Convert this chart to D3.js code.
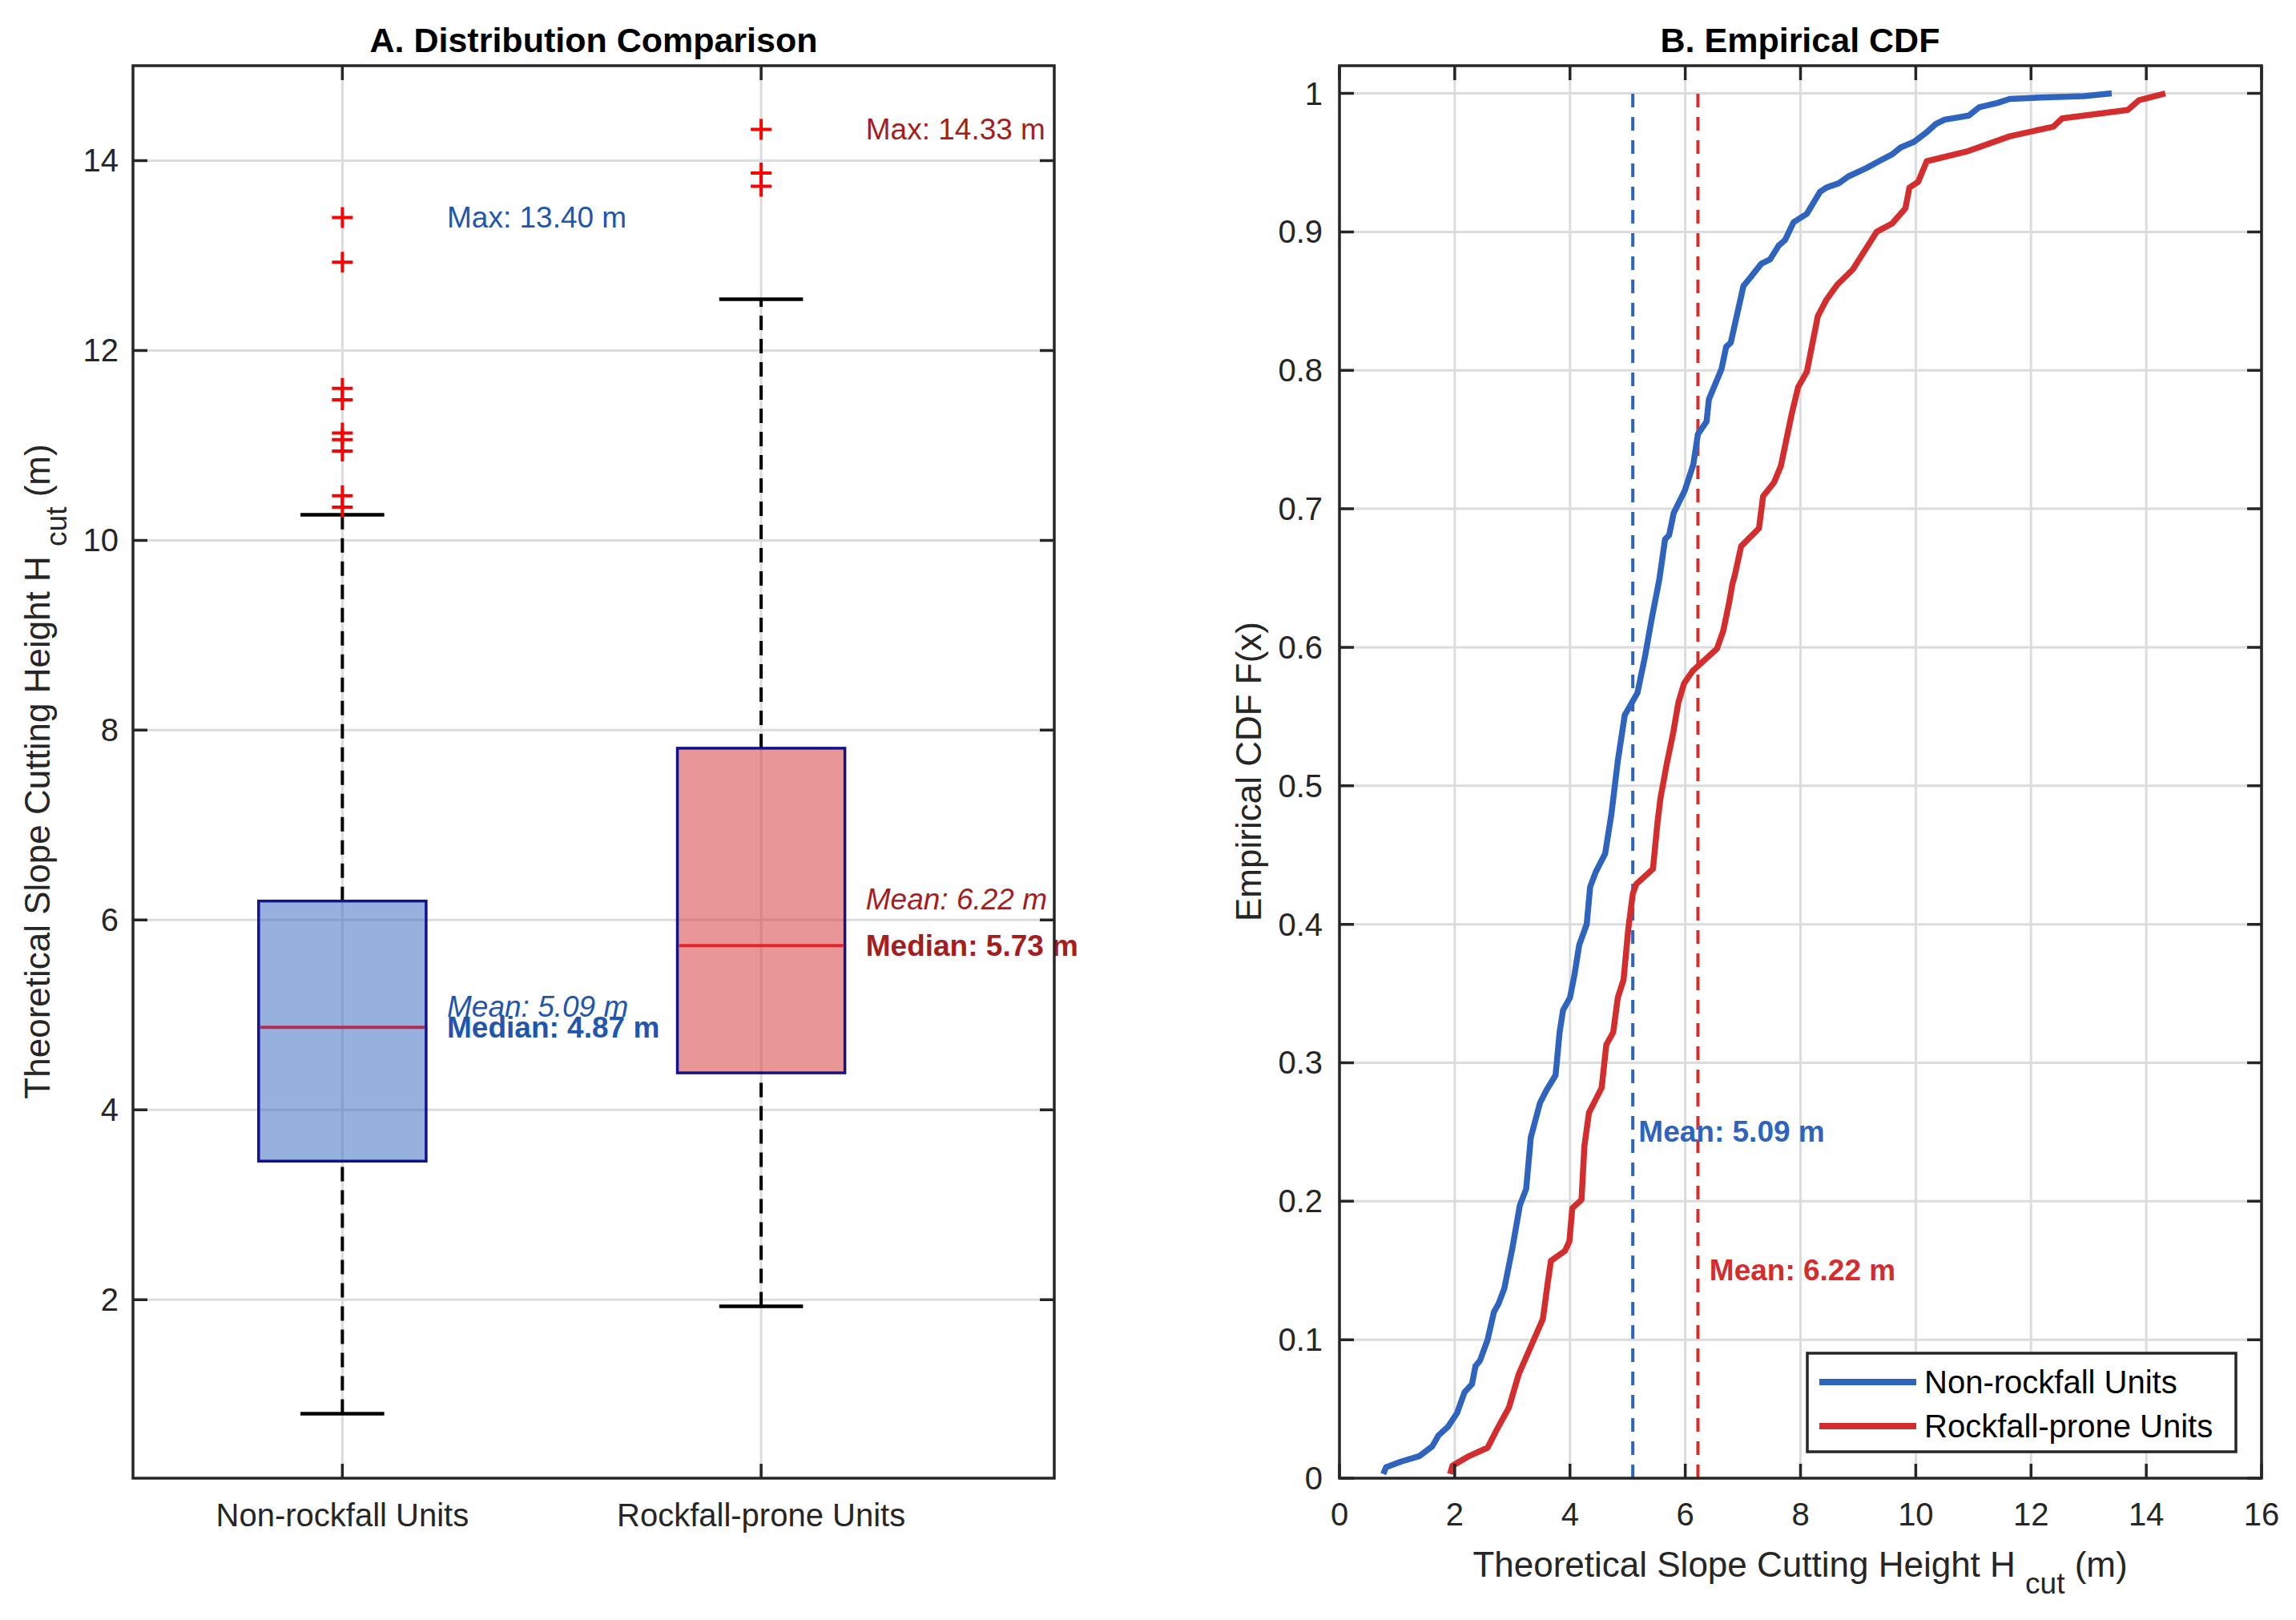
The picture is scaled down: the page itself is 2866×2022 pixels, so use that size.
<!DOCTYPE html>
<html>
<head>
<meta charset="utf-8">
<script src="https://cdn.jsdelivr.net/npm/d3@7"></script>
<style>
  body { margin: 0; background: #fff; }
  text { font-family: "Liberation Sans", Arial, sans-serif; white-space: pre; }
</style>
</head>
<body>
<div id="chart"></div>
<script>
const CBLUE = '#2F64BE'
const CRED = '#D42D2D'
const CBLUE_TXT = '#2156AE'
const CRED_TXT = '#A51D1D'
const CBOXEDGE = '#12128A'
const CGRID = '#DCDCDC'
const CAXIS = '#262626'

// box plot stats (m)
const categories = ["Non-rockfall Units", "Rockfall-prone Units"]
const whiskerLow = [0.80, 1.93]
const boxQ1 = [3.46, 4.39]
const boxMedian = [4.87, 5.73]
const boxQ3 = [6.20, 7.81]
const whiskerHigh = [10.27, 12.54]
const boxMean = [5.09, 6.22]
const dataMax = [13.40, 14.33]
const outliersNon = [13.40, 12.93, 11.60, 11.48, 11.13, 11.06, 10.94, 10.47, 10.35]
const outliersRock = [14.33, 13.87, 13.73]

// empirical CDF
const cdfNonX = [0.76, 0.81, 1.07, 1.39, 1.61, 1.72, 1.88, 2.04, 2.17, 2.30, 2.36, 2.44, 2.57, 2.68, 2.76, 2.86,
    3.00, 3.13, 3.24, 3.32, 3.48, 3.59, 3.75, 3.82, 3.88, 4.00, 4.08, 4.16, 4.29, 4.35, 4.45, 4.61, 4.72, 4.83,
    4.95, 5.17, 5.30, 5.42, 5.55, 5.65, 5.72, 5.80, 5.99, 6.14, 6.22, 6.37, 6.41, 6.63, 6.71, 6.79, 7.01, 7.13,
    7.32, 7.47, 7.62, 7.73, 7.88, 8.11, 8.34, 8.45, 8.66, 8.83, 9.14, 9.36, 9.59, 9.74, 9.97, 10.19, 10.35, 10.50,
    10.92, 11.10, 11.41, 11.63, 12.16, 12.92, 13.40]
const cdfNonF = [0.003, 0.008, 0.012, 0.016, 0.023, 0.031, 0.037, 0.047, 0.062, 0.068, 0.081, 0.085, 0.100, 0.120, 0.126, 0.137,
    0.166, 0.197, 0.209, 0.246, 0.271, 0.280, 0.291, 0.322, 0.338, 0.347, 0.364, 0.385, 0.400, 0.427, 0.438, 0.451, 0.480, 0.518,
    0.551, 0.567, 0.593, 0.621, 0.649, 0.678, 0.681, 0.697, 0.713, 0.732, 0.754, 0.763, 0.779, 0.801, 0.817, 0.820, 0.861, 0.867,
    0.877, 0.880, 0.890, 0.894, 0.907, 0.913, 0.929, 0.932, 0.935, 0.940, 0.946, 0.951, 0.956, 0.961, 0.965, 0.972, 0.978, 0.981,
    0.984, 0.990, 0.993, 0.996, 0.997, 0.998, 1.000]
const cdfRockX = [1.92, 1.96, 2.25, 2.57, 2.73, 2.94, 3.11, 3.32, 3.53, 3.61, 3.67, 3.91, 3.99, 4.04, 4.20, 4.25, 4.33,
    4.55, 4.63, 4.75, 4.83, 4.93, 5.01, 5.09, 5.15, 5.44, 5.52, 5.57, 5.68, 5.79, 5.88, 5.98, 6.13, 6.55, 6.66, 6.76,
    6.82, 6.86, 6.97, 7.28, 7.35, 7.54, 7.66, 7.85, 7.96, 8.11, 8.30, 8.45, 8.64, 8.91, 9.32, 9.59, 9.82, 9.89, 10.04,
    10.19, 10.88, 11.63, 12.39, 12.54, 13.68, 13.87, 14.33]
const cdfRockF = [0.003, 0.009, 0.016, 0.022, 0.035, 0.051, 0.075, 0.095, 0.115, 0.140, 0.157, 0.164, 0.171, 0.195, 0.201, 0.240, 0.264,
    0.282, 0.313, 0.322, 0.347, 0.360, 0.396, 0.422, 0.429, 0.440, 0.474, 0.491, 0.516, 0.538, 0.560, 0.574, 0.583, 0.599, 0.612, 0.632,
    0.646, 0.652, 0.673, 0.686, 0.709, 0.719, 0.731, 0.769, 0.788, 0.799, 0.839, 0.851, 0.862, 0.873, 0.900, 0.906, 0.917, 0.932, 0.936,
    0.951, 0.958, 0.969, 0.976, 0.982, 0.988, 0.995, 1.000]

const yTicksA = [2, 4, 6, 8, 10, 12, 14]
const xTicksB = [0, 2, 4, 6, 8, 10, 12, 14, 16]
const yTicksB = [0, 0.1, 0.2, 0.3, 0.4, 0.5, 0.6, 0.7, 0.8, 0.9, 1]

const width = 2866
const height = 2022
const tickLen = 18

const svg = d3.select("#chart")
    .append("svg")
    .attr("width", width)
    .attr("height", height)
    .attr("viewBox", [0, 0, width, height])

svg.append("rect").attr("width", width).attr("height", height).attr("fill", "#fff")

// axis label with subscript "cut"
function hcutLabel(g) {
    g.append("tspan").text("Theoretical Slope Cutting Height H ")
    g.append("tspan").attr("dy", 21).attr("font-size", 37).text("cut")
    g.append("tspan").attr("dy", -21).text(" (m)")
}

function frame(g, x0, x1, y0, y1) {
    g.append("rect")
        .attr("x", x0).attr("y", y0)
        .attr("width", x1 - x0).attr("height", y1 - y0)
        .attr("fill", "none")
        .attr("stroke", CAXIS)
        .attr("stroke-width", 3.5)
}

// ---------------- panel A: box plot ----------------
const xA = d3.scaleLinear().domain([0.5, 2.7]).range([166, 1316])
const yA = d3.scaleLinear().domain([0.12, 15]).range([1845, 82])
const gA = svg.append("g")
const boxW = 0.4
const capW = 0.2

// grid
gA.append("g").selectAll("line").data(yTicksA).join("line")
    .attr("x1", xA(0.5)).attr("x2", xA(2.7))
    .attr("y1", d => yA(d)).attr("y2", d => yA(d))
    .attr("stroke", CGRID).attr("stroke-width", 3)
gA.append("g").selectAll("line").data([1, 2]).join("line")
    .attr("x1", d => xA(d)).attr("x2", d => xA(d))
    .attr("y1", yA(0.12)).attr("y2", yA(15))
    .attr("stroke", CGRID).attr("stroke-width", 3)

const boxes = categories.map((c, i) => ({
    pos: i + 1, lo: whiskerLow[i], q1: boxQ1[i], med: boxMedian[i], q3: boxQ3[i],
    hi: whiskerHigh[i], mean: boxMean[i], max: dataMax[i]
}))
const boxFill = [CBLUE, CRED]
const medColor = ['#B3304F', '#E8242A']
const txtColor = [CBLUE_TXT, CRED_TXT]

// whiskers
gA.append("g").selectAll("line").data(boxes.flatMap(b => [[b.pos, b.q3, b.hi], [b.pos, b.lo, b.q1]])).join("line")
    .attr("x1", d => xA(d[0])).attr("x2", d => xA(d[0]))
    .attr("y1", d => yA(d[1])).attr("y2", d => yA(d[2]))
    .attr("stroke", "#000").attr("stroke-width", 4)
    .attr("stroke-dasharray", "18,11")
gA.append("g").selectAll("line").data(boxes.flatMap(b => [[b.pos, b.hi], [b.pos, b.lo]])).join("line")
    .attr("x1", d => xA(d[0] - capW / 2)).attr("x2", d => xA(d[0] + capW / 2))
    .attr("y1", d => yA(d[1])).attr("y2", d => yA(d[1]))
    .attr("stroke", "#000").attr("stroke-width", 4.5)

// boxes
gA.append("g").selectAll("rect").data(boxes).join("rect")
    .attr("x", d => xA(d.pos - boxW / 2))
    .attr("width", d => xA(d.pos + boxW / 2) - xA(d.pos - boxW / 2))
    .attr("y", d => yA(d.q3))
    .attr("height", d => yA(d.q1) - yA(d.q3))
    .attr("fill", (d, i) => boxFill[i])
    .attr("fill-opacity", 0.5)
    .attr("stroke", CBOXEDGE)
    .attr("stroke-width", 3.5)
gA.append("g").selectAll("line").data(boxes).join("line")
    .attr("x1", d => xA(d.pos - boxW / 2) + 2).attr("x2", d => xA(d.pos + boxW / 2) - 2)
    .attr("y1", d => yA(d.med)).attr("y2", d => yA(d.med))
    .attr("stroke", (d, i) => medColor[i]).attr("stroke-width", 4)

// outliers
const outliers = outliersNon.map(v => [1, v]).concat(outliersRock.map(v => [2, v]))
gA.append("g").selectAll("path").data(outliers).join("path")
    .attr("d", d => {
        const cx = xA(d[0]), cy = yA(d[1]), s = 13
        return `M${cx - s},${cy}H${cx + s}M${cx},${cy - s}V${cy + s}`
    })
    .attr("stroke", "#FF0000").attr("stroke-width", 4).attr("fill", "none")

// annotations
const annA = gA.append("g").attr("font-size", 37)
boxes.forEach((b, i) => {
    const tx = xA(b.pos + 0.25)
    annA.append("text").attr("x", tx).attr("y", yA(b.max)).attr("dominant-baseline", "central")
        .attr("fill", txtColor[i]).text(`Max: ${b.max.toFixed(2)} m`)
    annA.append("text").attr("x", tx).attr("y", yA(b.mean)).attr("dominant-baseline", "central")
        .attr("fill", txtColor[i]).attr("font-style", "italic").text(`Mean: ${b.mean.toFixed(2)} m`)
    annA.append("text").attr("x", tx).attr("y", yA(b.med)).attr("dominant-baseline", "central")
        .attr("fill", txtColor[i]).attr("font-weight", "bold").text(`Median: ${b.med.toFixed(2)} m`)
})

frame(gA, 166, 1316, 82, 1845)

// ticks A
gA.append("g").selectAll("path").data(yTicksA).join("path")
    .attr("d", d => `M166,${yA(d)}h${tickLen}M1316,${yA(d)}h${-tickLen}`)
    .attr("stroke", CAXIS).attr("stroke-width", 3.5)
gA.append("g").selectAll("path").data([1, 2]).join("path")
    .attr("d", d => `M${xA(d)},1845v${-tickLen}M${xA(d)},82v${tickLen}`)
    .attr("stroke", CAXIS).attr("stroke-width", 3.5)
gA.append("g").attr("font-size", 40).attr("fill", CAXIS)
    .selectAll("text").data(yTicksA).join("text")
    .attr("x", 148).attr("y", d => yA(d)).attr("text-anchor", "end").attr("dominant-baseline", "central")
    .text(d => d)
gA.append("g").attr("font-size", 40).attr("fill", CAXIS)
    .selectAll("text").data(categories).join("text")
    .attr("x", (d, i) => xA(i + 1)).attr("y", 1905).attr("text-anchor", "middle")
    .text(d => d)

gA.append("text").attr("x", 741).attr("y", 65).attr("text-anchor", "middle")
    .attr("font-size", 43).attr("font-weight", "bold").attr("fill", "#000")
    .text("A. Distribution Comparison")
gA.append("text").attr("transform", "translate(62,963) rotate(-90)")
    .attr("text-anchor", "middle").attr("font-size", 44).attr("fill", CAXIS)
    .call(hcutLabel)

// ---------------- panel B: empirical CDF ----------------
const xB = d3.scaleLinear().domain([0, 16]).range([1672, 2823])
const yB = d3.scaleLinear().domain([0, 1.02]).range([1845, 82])
const gB = svg.append("g")

gB.append("g").selectAll("line").data(yTicksB).join("line")
    .attr("x1", xB(0)).attr("x2", xB(16))
    .attr("y1", d => yB(d)).attr("y2", d => yB(d))
    .attr("stroke", CGRID).attr("stroke-width", 3)
gB.append("g").selectAll("line").data(xTicksB).join("line")
    .attr("x1", d => xB(d)).attr("x2", d => xB(d))
    .attr("y1", yB(0)).attr("y2", yB(1.02))
    .attr("stroke", CGRID).attr("stroke-width", 3)

const line = d3.line().x(d => xB(d[0])).y(d => yB(d[1]))
const series = [
    { name: categories[0], color: CBLUE, pts: d3.zip(cdfNonX, cdfNonF), mean: boxMean[0], lx: 0.1, ly: 0.25 },
    { name: categories[1], color: CRED, pts: d3.zip(cdfRockX, cdfRockF), mean: boxMean[1], lx: 0.2, ly: 0.15 }
]

gB.append("g").selectAll("line").data(series).join("line")
    .attr("x1", d => xB(d.mean)).attr("x2", d => xB(d.mean))
    .attr("y1", yB(0)).attr("y2", yB(1))
    .attr("stroke", d => d.color).attr("stroke-width", 4)
    .attr("stroke-dasharray", "17,12")

gB.append("g").selectAll("path").data(series).join("path")
    .attr("d", d => line(d.pts))
    .attr("fill", "none")
    .attr("stroke", d => d.color)
    .attr("stroke-width", 7.5)
    .attr("stroke-linejoin", "round")

gB.append("g").attr("font-size", 37).attr("font-weight", "bold")
    .selectAll("text").data(series).join("text")
    .attr("x", d => xB(d.mean + d.lx)).attr("y", d => yB(d.ly))
    .attr("dominant-baseline", "central")
    .attr("fill", d => d.color)
    .text(d => `Mean: ${d.mean.toFixed(2)} m`)

frame(gB, 1672, 2823, 82, 1845)

gB.append("g").selectAll("path").data(yTicksB).join("path")
    .attr("d", d => `M1672,${yB(d)}h${tickLen}M2823,${yB(d)}h${-tickLen}`)
    .attr("stroke", CAXIS).attr("stroke-width", 3.5)
gB.append("g").selectAll("path").data(xTicksB).join("path")
    .attr("d", d => `M${xB(d)},1845v${-tickLen}M${xB(d)},82v${tickLen}`)
    .attr("stroke", CAXIS).attr("stroke-width", 3.5)
gB.append("g").attr("font-size", 40).attr("fill", CAXIS)
    .selectAll("text").data(yTicksB).join("text")
    .attr("x", 1651).attr("y", d => yB(d)).attr("text-anchor", "end").attr("dominant-baseline", "central")
    .text(d => d)
gB.append("g").attr("font-size", 40).attr("fill", CAXIS)
    .selectAll("text").data(xTicksB).join("text")
    .attr("x", d => xB(d)).attr("y", 1904).attr("text-anchor", "middle")
    .text(d => d)

gB.append("text").attr("x", 2247).attr("y", 65).attr("text-anchor", "middle")
    .attr("font-size", 43).attr("font-weight", "bold").attr("fill", "#000")
    .text("B. Empirical CDF")
gB.append("text").attr("x", 2247).attr("y", 1968).attr("text-anchor", "middle")
    .attr("font-size", 44).attr("fill", CAXIS)
    .call(hcutLabel)
gB.append("text").attr("transform", "translate(1574,963) rotate(-90)")
    .attr("text-anchor", "middle").attr("font-size", 44).attr("fill", CAXIS)
    .text("Empirical CDF F(x)")

// legend
const leg = gB.append("g")
leg.append("rect").attr("x", 2256).attr("y", 1689).attr("width", 535).attr("height", 123)
    .attr("fill", "#fff").attr("stroke", CAXIS).attr("stroke-width", 3.5)
const legItems = leg.selectAll("g").data(series).join("g")
    .attr("transform", (d, i) => `translate(0,${1725 + i * 55})`)
legItems.append("line").attr("x1", 2271).attr("x2", 2392)
    .attr("stroke", d => d.color).attr("stroke-width", 8)
legItems.append("text").attr("x", 2402).attr("dominant-baseline", "central")
    .attr("font-size", 40).attr("fill", "#000").text(d => d.name)
</script>
</body>
</html>
